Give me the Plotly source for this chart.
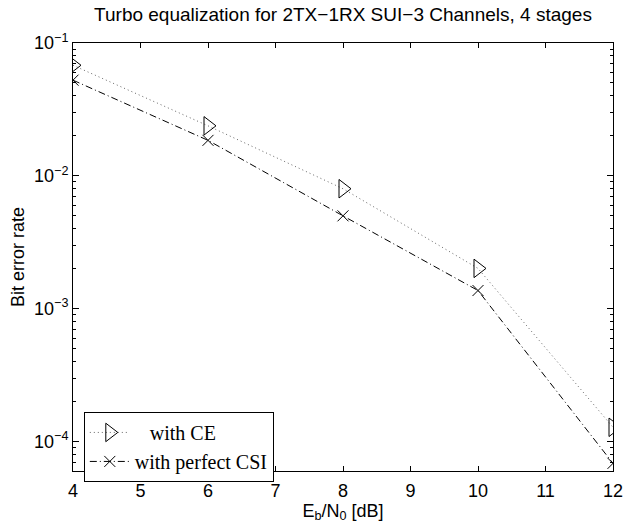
import plotly.graph_objects as go
import numpy as np

snr_db = [4, 6, 8, 10, 12]
ber_ce = [0.068, 0.0238, 0.0080, 0.00201, 1.28e-4]
ber_csi = [0.0525, 0.0185, 0.0050, 0.00137, 6.85e-5]
series_names = ["\u00a0\u00a0\u00a0with CE", "with perfect CSI"]
title_text = "Turbo equalization for 2TX\u22121RX SUI\u22123 Channels, 4 stages"
x_ticks = [4, 5, 6, 7, 8, 9, 10, 11, 12]
y_major = [1e-4, 1e-3, 1e-2, 1e-1]
y_major_text = ["10<sup>\u22124</sup>", "10<sup>\u22123</sup>", "10<sup>\u22122</sup>", "10<sup>\u22121</sup>"]
y_minor = [m * 10.0 ** e for e in range(-5, -1) for m in range(2, 10)]
y_min = 6e-5
y_max = 1e-1

sans = "Liberation Sans, Arial, Helvetica, sans-serif"
serif = "Liberation Serif, Times New Roman, serif"

fig = go.Figure()
fig.add_trace(go.Scatter(
    x=snr_db, y=ber_ce, name=series_names[0], mode="lines+markers",
    line=dict(color="#666666", width=1, dash="1px,3px"),
    marker=dict(symbol="triangle-right-open", size=16, color="black",
                line=dict(color="black", width=1)),
))
fig.add_trace(go.Scatter(
    x=snr_db, y=ber_csi, name=series_names[1], mode="lines+markers",
    line=dict(color="black", width=1, dash="7px,3px,1px,3px"),
    marker=dict(symbol="x-thin-open", size=11, color="black",
                line=dict(color="black", width=1)),
))

fig.update_layout(
    width=635, height=525,
    margin=dict(l=73, r=12, t=43, b=48),
    paper_bgcolor="white", plot_bgcolor="white",
    font=dict(family=sans, size=18, color="black"),
    title=dict(text=title_text, x=0.5, xref="paper", xanchor="center",
               y=1 - 14 / 525, yref="container", yanchor="middle",
               font=dict(family=sans, size=19, color="black")),
    showlegend=True,
    legend=dict(x=0.02, y=0.138, xanchor="left", yanchor="top",
                bgcolor="white", bordercolor="black", borderwidth=1,
                font=dict(family=serif, size=20, color="black"),
                itemwidth=40, tracegroupgap=0),
)
fig.update_xaxes(
    range=[4, 12], tickvals=x_ticks, ticks="inside", ticklen=5,
    tickcolor="black", showline=True, linecolor="black", linewidth=1,
    mirror="ticks", showgrid=False, zeroline=False,
    tickfont=dict(family=sans, size=18), ticklabelstandoff=3,
    title=dict(text="E<sub>b</sub>/N<sub>0</sub> [dB]", standoff=0,
               font=dict(family=sans, size=18)),
)
fig.update_yaxes(
    type="log", range=[np.log10(y_min), np.log10(y_max)],
    tickmode="array", tickvals=y_major, ticktext=y_major_text,
    ticks="inside", ticklen=6, tickcolor="black",
    showline=True, linecolor="black", linewidth=1, mirror="ticks",
    showgrid=False, zeroline=False,
    tickfont=dict(family=sans, size=18),
    minor=dict(tickmode="array", tickvals=y_minor, ticks="inside",
               ticklen=3, tickcolor="black", showgrid=False),
    title=dict(text="Bit error rate", standoff=4,
               font=dict(family=sans, size=18)),
)

fig.write_html("out.html")
